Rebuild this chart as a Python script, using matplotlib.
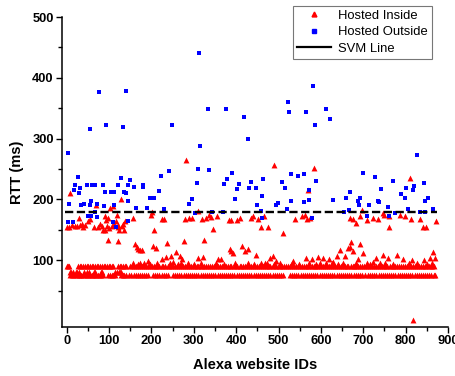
import matplotlib
matplotlib.use("Agg")
import matplotlib.pyplot as plt
from matplotlib.lines import Line2D
import numpy as np

RED = "#ff0000"
BLUE = "#0000ff"

# Hosted outside: (id, rtt)
outside_ids = [2, 5, 2, 14, 17, 20, 27, 30, 32, 34, 42, 47, 50, 54, 55, 57, 57, 59, 67, 68,
               71, 72, 76, 86, 87, 90, 93, 104, 109, 111, 112, 117, 122, 128, 133, 135, 139,
               139, 144, 145, 144, 150, 160, 164, 180, 181, 190, 196, 207, 219, 223, 230, 241,
               249, 288, 295, 302, 307, 311, 313, 315, 334, 335, 343, 368, 372, 375, 379, 390,
               398, 401, 406, 418, 429, 431, 434, 447, 449, 459, 462, 461, 464, 494, 498, 509,
               516, 519, 522, 524, 529, 529, 546, 560, 560, 566, 573, 573, 580, 582, 587, 588,
               613, 622, 629, 654, 659, 666, 668, 688, 689, 692, 699, 710, 713, 727, 734, 738,
               743, 759, 761, 771, 776, 790, 798, 800, 805, 817, 820, 828, 833, 843, 846, 846,
               853, 865]
outside_rtt = [277, 193, 162, 162, 216, 224, 236, 210, 218, 190, 192, 224, 172, 316, 191, 198,
               173, 224, 224, 180, 193, 171, 376, 224, 189, 212, 322, 212, 162, 212, 190, 154,
               224, 235, 319, 212, 211, 378, 224, 197, 165, 232, 220, 185, 224, 220, 185, 202,
               202, 214, 239, 184, 247, 323, 193, 200, 177, 227, 250, 440, 288, 349, 248, 180,
               180, 225, 349, 233, 243, 201, 217, 226, 335, 300, 218, 228, 218, 190, 181, 205,
               169, 234, 191, 194, 228, 219, 184, 360, 343, 197, 241, 239, 242, 196, 344, 215,
               199, 169, 387, 322, 231, 349, 333, 199, 180, 202, 182, 212, 197, 191, 202, 243,
               173, 190, 237, 197, 196, 217, 188, 172, 231, 177, 208, 202, 218, 184, 216, 222,
               273, 180, 227, 197, 180, 202, 184]

# Hosted inside: scattered points (id, rtt)
inside_ids = [9, 70, 128, 281, 490, 584, 811, 569, 510, 310, 97, 122, 207, 324, 345, 872, 817,
              848, 459, 476, 761,
              0, 6, 13, 19, 25, 31, 39, 28, 51, 55, 73, 79, 83, 86, 90, 94, 98, 101, 106, 112,
              116, 120, 124, 130, 134, 138, 102, 110, 118, 135, 120, 91, 96, 64, 44, 36,
              157, 200, 201, 224, 230, 280, 289, 295, 319, 330, 337, 341, 354, 382, 389, 402,
              409, 436, 440, 451, 465, 568, 574, 539, 555, 563, 668, 676, 682, 692, 696, 708,
              723, 734, 747, 750, 760, 786, 798, 813, 834, 840,
              161, 165, 169, 173, 177, 203, 212, 237, 277, 191, 226, 234, 247, 259, 267, 273,
              310, 322, 358, 364, 385, 389, 393, 414, 422, 427, 448, 472, 481, 486, 495, 535,
              566, 580, 593, 604, 619, 637, 646, 656, 663, 668, 672, 676, 688, 692, 700, 731,
              747, 759, 780, 794, 816, 843, 857, 865, 869, 723, 708, 597, 629,
              8, 11, 15, 21, 25, 30, 42, 47, 52, 65, 68, 80, 83, 113, 118, 123, 125, 128,
              156, 168, 172, 183, 196, 214, 243, 252, 262, 270, 287, 300, 316, 352, 372, 398,
              428, 442, 458, 467, 490, 503, 531, 548, 572, 588, 612, 626, 640, 652, 684, 715,
              740, 752, 770, 808, 826, 851, 862]
inside_rtt = [211, 190, 201, 264, 256, 251, 235, 216, 145, 181, 133, 132, 150, 133, 151, 165, 2,
              154, 154, 154, 154,
              154, 154, 158, 156, 156, 158, 154, 169, 164, 168, 154, 160, 156, 150, 172, 166,
              169, 153, 156, 160, 164, 158, 150, 156, 160, 164, 186, 189, 175, 149, 154, 150,
              156, 155, 157, 160,
              169, 175, 180, 167, 167, 168, 169, 169, 167, 169, 175, 171, 173, 166, 166, 166,
              169, 169, 173, 167, 172, 167, 169, 167, 173, 175, 169, 167, 161, 172, 183, 166,
              169, 167, 178, 175, 172, 175, 173, 168, 168, 154,
              126, 121, 118, 116, 116, 123, 120, 128, 131, 99, 102, 105, 107, 114, 107, 102,
              104, 105, 102, 102, 118, 115, 111, 123, 115, 118, 108, 96, 104, 107, 99, 99,
              104, 102, 105, 104, 102, 107, 116, 107, 120, 121, 130, 115, 102, 127, 111, 104,
              108, 104, 108, 102, 101, 101, 104, 113, 104, 97, 95, 96, 97,
              80, 80, 80, 80, 80, 80, 80, 80, 80, 80, 80, 80, 80, 80, 80, 80, 80, 80,
              95, 94, 96, 95, 94, 96, 95, 97, 94, 95, 96, 94, 95, 96, 94, 95,
              96, 94, 95, 96, 94, 95, 96, 94, 95, 94, 96, 95, 94, 96, 95, 94,
              96, 95, 94, 95, 96, 94, 95]

# Hosted inside: the two dense rows at ~90 ms and ~75 ms
row90_ids = [0, 3, 6, 27, 31, 35, 39, 43, 47, 51, 55, 59, 63, 67, 71, 75, 79, 83, 87, 91, 95,
             99, 103, 107, 110, 121, 125, 129, 133, 137, 141,
             150, 154, 159, 164, 168, 173, 178, 182, 187, 191, 196, 201, 205, 210, 214, 219,
             224, 228, 233, 238, 242, 247, 251, 256, 261, 265, 270, 274, 279, 284, 288, 293,
             297, 302, 307, 311, 316, 320, 325, 330, 334, 339, 343, 348, 353, 357, 362, 366,
             371, 376, 380, 385, 389, 394, 399, 403, 408, 412, 417, 422, 426, 431, 435, 440,
             445, 449, 454, 458, 463, 468, 472, 477, 481, 486, 491, 495, 500, 504, 509, 514,
             518, 523, 527, 532, 537, 541, 546, 550, 555, 560, 564, 569, 573, 578, 583, 587,
             592, 596, 601, 606, 610, 615, 619, 624, 629, 633, 638, 642, 647, 652, 656, 661,
             665, 670, 675, 679, 684, 688, 693, 698, 702, 707, 711, 716, 721, 725, 730, 734,
             739, 744, 748, 753, 757, 762, 767, 771, 776, 780, 785, 790, 794, 799, 803, 808,
             813, 817, 822, 826, 831, 836, 840, 845, 849, 854, 859, 863, 868]
row75_ids = [8, 12, 16, 20, 24, 28, 31, 35, 39, 43, 47, 51, 55, 59, 63, 67, 70, 74, 78, 82,
             86, 98, 102, 106, 110, 113, 128, 132, 136, 141, 148,
             153, 158, 163, 168, 173, 178, 183, 188, 193, 204, 209, 214, 219, 224, 229, 234,
             239, 251, 256, 261, 266, 271, 276, 281, 286, 291, 296, 301, 306, 311, 316, 321,
             326, 331, 336, 341, 346, 351, 356, 361, 366, 371, 376, 381, 386, 391, 396, 401,
             406, 411, 416, 421, 426, 431, 436, 441, 446, 451, 456, 461, 466, 471, 476, 481,
             486, 491, 496, 501, 506, 511, 527, 532, 537, 542, 547, 552, 557, 562, 567, 572,
             577, 582, 587, 592, 597, 602, 607, 612, 617, 622, 627, 632, 637, 642, 647, 652,
             657, 662, 667, 672, 677, 682, 687, 692, 697, 703, 711, 716, 721, 726, 731, 736,
             741, 746, 751, 756, 761, 766, 771, 776, 781, 786, 791, 796, 801, 806, 811, 816,
             821, 826, 831, 836, 841, 846, 851, 856, 861, 866, 870]
row90_rtt = 90
row75_rtt = 75

svm_ids = [-4, 874]
svm_rtt = [180, 180]

plt.rcParams.update({
    "font.family": "Liberation Sans",
    "font.size": 8,
})

fig = plt.figure(figsize=(4.55, 3.76), dpi=100)
ax = fig.add_axes([62 / 455, 49 / 376, 386 / 455, 310 / 376])

tri = dict(marker="^", s=18, color=RED, linewidths=0)
ax.scatter(row75_ids, np.full(len(row75_ids), row75_rtt), **tri)
ax.scatter(row90_ids, np.full(len(row90_ids), row90_rtt), **tri)
ax.scatter(inside_ids, inside_rtt, **tri)
ax.scatter(outside_ids, outside_rtt, marker="s", s=10, color=BLUE, linewidths=0)
ax.plot(svm_ids, svm_rtt, color="black", lw=1.7, ls=(0, (3.5, 1.5)))

ax.set_xlim(-11, 900)
ax.set_ylim(-10, 500)
ax.set_xticks(range(0, 901, 100))
ax.set_xticks(range(50, 900, 100), minor=True)
ax.set_yticks(range(100, 501, 100))
ax.set_yticks(range(50, 500, 100), minor=True)
ax.spines["top"].set_visible(False)
ax.spines["right"].set_visible(False)
for side in ("left", "bottom"):
    ax.spines[side].set_linewidth(1.1)
ax.tick_params(which="major", direction="out", length=4, width=1, pad=2)
ax.tick_params(which="minor", direction="out", length=3, width=1)
for label in ax.get_xticklabels() + ax.get_yticklabels():
    label.set_fontweight("bold")
    label.set_fontsize(9.3)

ax.set_xlabel("Alexa website IDs", fontsize=10.5, fontweight="bold", labelpad=8)
ax.set_ylabel("RTT (ms)", fontsize=10.5, fontweight="bold", labelpad=6)

handles = [
    Line2D([], [], marker="^", ls="none", color=RED, markersize=3.5),
    Line2D([], [], marker="s", ls="none", color=BLUE, markersize=2.8),
    Line2D([], [], color="black", lw=1.6),
]
leg = fig.legend(handles, ["Hosted Inside", "Hosted Outside", "SVM Line"],
                 loc="upper right", bbox_to_anchor=(432 / 455, 1 - 6 / 376),
                 fontsize=9.4, frameon=True, fancybox=False, borderpad=0.3,
                 labelspacing=0.32, handlelength=2.6, handletextpad=0.6,
                 borderaxespad=0)
leg.get_frame().set_edgecolor("#555555")
leg.get_frame().set_linewidth(0.8)

fig.savefig("out.png", dpi=100)
